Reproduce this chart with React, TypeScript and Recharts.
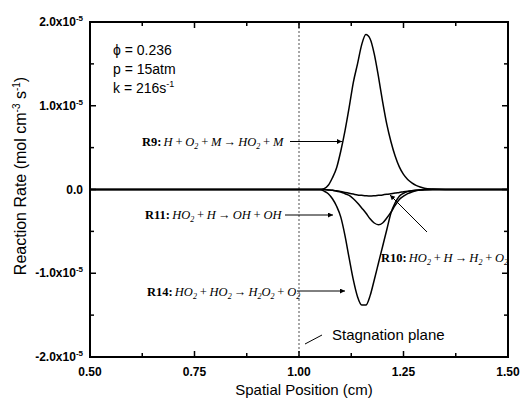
import React from "react";
import { LineChart, Line, XAxis, YAxis, ReferenceLine } from "recharts";

// Spatial position (cm)
const POSITIONS = [
  0.5, 1.0, 1.04, 1.05, 1.06, 1.07, 1.08, 1.09, 1.1, 1.11, 1.12, 1.13, 1.14, 1.15, 1.16, 1.17,
  1.18, 1.19, 1.2, 1.21, 1.22, 1.23, 1.24, 1.25, 1.26, 1.27, 1.28, 1.29, 1.3, 1.32, 1.35, 1.5,
];
// Reaction rates in units of 1e-5 mol cm^-3 s^-1
const R9_RATE = [
  0, 0, 0, 0, 0.01, 0.05, 0.14, 0.26, 0.46, 0.7, 0.98, 1.28, 1.5, 1.73, 1.85, 1.8,
  1.62, 1.35, 1.05, 0.78, 0.57, 0.4, 0.27, 0.18, 0.12, 0.08, 0.05, 0.03, 0.015, 0.005, 0, 0,
];
const R10_RATE = [
  0, 0, 0, 0, 0, -0.005, -0.01, -0.015, -0.025, -0.035, -0.045, -0.055, -0.065, -0.07, -0.075, -0.078,
  -0.075, -0.07, -0.065, -0.058, -0.05, -0.042, -0.035, -0.027, -0.02, -0.014, -0.009, -0.005, -0.002, 0, 0, 0,
];
const R11_RATE = [
  0, 0, 0, 0, 0, -0.005, -0.01, -0.02, -0.03, -0.05, -0.07, -0.11, -0.16, -0.22, -0.28, -0.35,
  -0.4, -0.42, -0.4, -0.34, -0.27, -0.19, -0.12, -0.08, -0.05, -0.03, -0.015, -0.006, -0.002, 0, 0, 0,
];
const R14_RATE = [
  0, 0, 0, 0, -0.02, -0.05, -0.11, -0.2, -0.33, -0.55, -0.82, -1.08, -1.28, -1.38, -1.38, -1.27,
  -1.08, -0.88, -0.68, -0.48, -0.28, -0.16, -0.08, -0.045, -0.025, -0.015, -0.008, -0.004, 0, 0, 0, 0,
];
const UNIT = 1e-5;

const X_MIN = 0.5;
const X_MAX = 1.5;
const Y_MIN = -2 * UNIT;
const Y_MAX = 2 * UNIT;
const X_TICKS = [0.5, 0.625, 0.75, 0.875, 1.0, 1.125, 1.25, 1.375, 1.5];
const X_MAJOR = [0.5, 0.75, 1.0, 1.25, 1.5];
const Y_TICKS = [-2, -1.5, -1, -0.5, 0, 0.5, 1, 1.5, 2].map((v) => v * UNIT);

const data = POSITIONS.map((x, i) => ({
  x,
  r9: R9_RATE[i] * UNIT,
  r10: R10_RATE[i] * UNIT,
  r11: R11_RATE[i] * UNIT,
  r14: R14_RATE[i] * UNIT,
}));

const SANS = "'Liberation Sans', Arial, sans-serif";
const SERIF = "'Liberation Serif', 'Times New Roman', serif";

// chart layout
const W = 521;
const H = 403;
const M_TOP = 22;
const M_RIGHT = 13;
const M_BOTTOM = 16;
const M_LEFT = 10;
const Y_AXIS_W = 80;
const X_AXIS_H = 30;
const PL = M_LEFT + Y_AXIS_W;
const PR = W - M_RIGHT;
const PT = M_TOP;
const PB = H - M_BOTTOM - X_AXIS_H;
const toPx = (v: number) => PL + ((v - X_MIN) / (X_MAX - X_MIN)) * (PR - PL);
const toPy = (v: number) => PB - ((v - Y_MIN) / (Y_MAX - Y_MIN)) * (PB - PT);

const isMajorX = (v: number) => X_MAJOR.some((m) => Math.abs(m - v) < 1e-9);
const isMajorY = (v: number) => Math.abs(v / UNIT - Math.round(v / UNIT)) < 1e-6;

const LeftTick = (props: any) => {
  const { x, y, payload } = props;
  const v = payload.value as number;
  const ax = x + 7;
  const major = isMajorY(v);
  const n = v / UNIT;
  return (
    <g>
      <line x1={ax} x2={ax + (major ? 6 : 4)} y1={y} y2={y} stroke="#000" strokeWidth={1.5} />
      {major && (
        <text x={ax - 7} y={y + 4} textAnchor="end" fontFamily={SANS} fontWeight="bold" fontSize={12} fill="#000">
          {Math.abs(n) < 1e-9 ? (
            "0.0"
          ) : (
            <>
              <tspan>{(n < 0 ? "-" : "") + Math.abs(n).toFixed(1) + "x10"}</tspan>
              <tspan dy={-5} fontSize={8}>-5</tspan>
            </>
          )}
        </text>
      )}
    </g>
  );
};

const BottomTick = (props: any) => {
  const { x, y, payload } = props;
  const v = payload.value as number;
  const ay = y - 8;
  const major = isMajorX(v);
  return (
    <g>
      <line x1={x} x2={x} y1={ay} y2={ay - (major ? 6 : 4)} stroke="#000" strokeWidth={1.5} />
      {major && (
        <text x={x} y={y + 11} textAnchor="middle" fontFamily={SANS} fontWeight="bold" fontSize={12} fill="#000">
          {v.toFixed(2)}
        </text>
      )}
    </g>
  );
};

type Tok = [string, "" | "sub"];
const Formula = ({ x, y, tag, toks }: { x: number; y: number; tag: string; toks: Tok[] }) => {
  const parts: React.ReactNode[] = [];
  let shifted = false;
  toks.forEach(([t, k], i) => {
    if (k === "sub") {
      parts.push(
        <tspan key={i} dy={3} fontSize={8}>
          {t}
        </tspan>
      );
      shifted = true;
    } else {
      parts.push(
        <tspan key={i} dy={shifted ? -3 : 0}>
          {t}
        </tspan>
      );
      shifted = false;
    }
  });
  return (
    <text x={x} y={y} fontFamily={SERIF} fontSize={12.5} fill="#000" wordSpacing={-1}>
      <tspan fontWeight="bold">{tag}</tspan>
      <tspan fontStyle="italic">{parts}</tspan>
    </text>
  );
};

const Arrow = ({ x1, y1, x2, y2 }: { x1: number; y1: number; x2: number; y2: number }) => (
  <line x1={x1} y1={y1} x2={x2} y2={y2} stroke="#000" strokeWidth={1} markerEnd="url(#arrowHead)" />
);

const frameTicks: { x1: number; y1: number; x2: number; y2: number; k: string }[] = [
  ...X_TICKS.filter((t) => t > X_MIN && t < X_MAX).map((t) => ({
    k: "tx" + t,
    x1: toPx(t),
    x2: toPx(t),
    y1: PT,
    y2: PT + (isMajorX(t) ? 6 : 4),
  })),
  ...Y_TICKS.filter((t) => t > Y_MIN && t < Y_MAX).map((t) => ({
    k: "ty" + t,
    x1: PR,
    x2: PR - (isMajorY(t) ? 6 : 4),
    y1: toPy(t),
    y2: toPy(t),
  })),
];

export default function App() {
  return (
    <div style={{ position: "absolute", left: 0, top: 0, width: W, height: H, background: "#fff" }}>
      <LineChart width={W} height={H} data={data} margin={{ top: M_TOP, right: M_RIGHT, bottom: M_BOTTOM, left: M_LEFT }}>
        <XAxis
          dataKey="x"
          type="number"
          domain={[X_MIN, X_MAX]}
          ticks={X_TICKS}
          interval={0}
          height={X_AXIS_H}
          tickSize={0}
          tickMargin={8}
          tickLine={false}
          axisLine={{ stroke: "#000", strokeWidth: 2 }}
          tick={<BottomTick />}
          allowDataOverflow
        />
        <YAxis
          type="number"
          domain={[Y_MIN, Y_MAX]}
          ticks={Y_TICKS}
          interval={0}
          width={Y_AXIS_W}
          tickSize={0}
          tickMargin={7}
          tickLine={false}
          axisLine={{ stroke: "#000", strokeWidth: 2 }}
          tick={<LeftTick />}
          allowDataOverflow
        />
        <ReferenceLine x={1.0} stroke="#8a8a8a" strokeWidth={1.5} strokeDasharray="2 2" />
        <Line type="monotone" dataKey="r9" stroke="#000" strokeWidth={1.5} dot={false} isAnimationActive={false} />
        <Line type="monotone" dataKey="r10" stroke="#000" strokeWidth={1.5} dot={false} isAnimationActive={false} />
        <Line type="monotone" dataKey="r11" stroke="#000" strokeWidth={1.5} dot={false} isAnimationActive={false} />
        <Line type="monotone" dataKey="r14" stroke="#000" strokeWidth={1.5} dot={false} isAnimationActive={false} />
      </LineChart>
      <svg width={W} height={H} style={{ position: "absolute", left: 0, top: 0, pointerEvents: "none" }}>
        <defs>
          <marker id="arrowHead" viewBox="0 0 10 10" refX="10" refY="5" markerWidth="8" markerHeight="5" orient="auto" markerUnits="userSpaceOnUse">
            <path d="M0,0 L10,5 L0,10 z" fill="#000" />
          </marker>
        </defs>
        {/* plot frame with inward ticks on top and right */}
        <rect x={PL} y={PT} width={PR - PL} height={PB - PT} fill="none" stroke="#000" strokeWidth={2} />
        {frameTicks.map((s) => (
          <line key={s.k} x1={s.x1} x2={s.x2} y1={s.y1} y2={s.y2} stroke="#000" strokeWidth={1.5} />
        ))}
        <text x={26} y={176} transform="rotate(-90 26 176)" textAnchor="middle" fontFamily={SANS} fontSize={16} fill="#000">
          <tspan>Reaction Rate (mol cm</tspan>
          <tspan dy={-6} fontSize={10}>-3</tspan>
          <tspan dy={6}> s</tspan>
          <tspan dy={-6} fontSize={10}>-1</tspan>
          <tspan dy={6}>)</tspan>
        </text>
        <text x={304} y={395} textAnchor="middle" fontFamily={SANS} fontSize={15} fill="#000">
          Spatial Position (cm)
        </text>
        <g fontFamily={SANS} fontSize={14} fill="#000">
          <text x={113} y={55}>ϕ = 0.236</text>
          <text x={113} y={74}>p = 15atm</text>
          <text x={113} y={93}>
            <tspan>k = 216s</tspan>
            <tspan dy={-6} fontSize={9}>-1</tspan>
          </text>
        </g>
        <Formula x={142} y={146} tag="R9: " toks={[["H + O", ""], ["2", "sub"], [" + M → HO", ""], ["2", "sub"], [" + M", ""]]} />
        <Arrow x1={290} y1={141.5} x2={342} y2={141.5} />
        <Formula x={145} y={219} tag="R11: " toks={[["HO", ""], ["2", "sub"], [" + H → OH + OH", ""]]} />
        <Arrow x1={285} y1={215} x2={333} y2={215} />
        <Formula x={147} y={296} tag="R14: " toks={[["HO", ""], ["2", "sub"], [" + HO", ""], ["2", "sub"], [" → H", ""], ["2", "sub"], ["O", ""], ["2", "sub"], [" + O", ""], ["2", "sub"]]} />
        <Arrow x1={297} y1={291} x2={345} y2={291} />
        <Formula x={381} y={262} tag="R10: " toks={[["HO", ""], ["2", "sub"], [" + H → H", ""], ["2", "sub"], [" + O", ""], ["2", "sub"]]} />
        <Arrow x1={427} y1={232} x2={390} y2={195} />
        <text x={332} y={340} fontFamily={SANS} fontSize={15} fill="#000">
          Stagnation plane
        </text>
        <line x1={305} y1={344} x2={322} y2={335} stroke="#000" strokeWidth={1} />
      </svg>
    </div>
  );
}
